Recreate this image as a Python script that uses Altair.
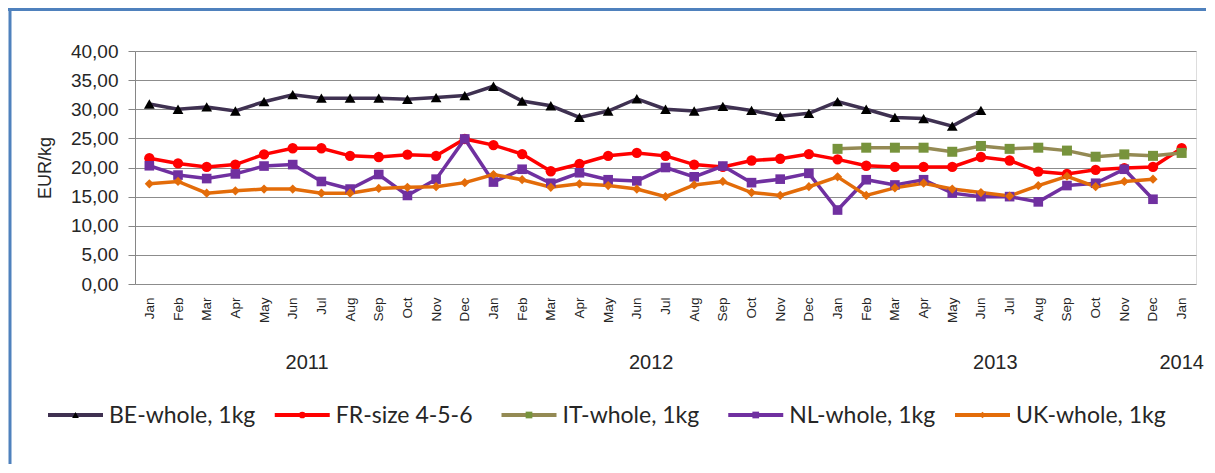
import altair as alt
import pandas as pd

months = ["Jan", "Feb", "Mar", "Apr", "May", "Jun", "Jul", "Aug", "Sep", "Oct", "Nov", "Dec",
          "Jan", "Feb", "Mar", "Apr", "May", "Jun", "Jul", "Aug", "Sep", "Oct", "Nov", "Dec",
          "Jan", "Feb", "Mar", "Apr", "May", "Jun", "Jul", "Aug", "Sep", "Oct", "Nov", "Dec",
          "Jan"]
years = [2011] * 12 + [2012] * 12 + [2013] * 12 + [2014]

series = ["BE-whole, 1kg", "FR-size 4-5-6", "IT-whole, 1kg", "NL-whole, 1kg", "UK-whole, 1kg"]

be = [30.9, 30.0, 30.4, 29.7, 31.3, 32.5, 31.9, 31.9, 31.9, 31.7, 32.0, 32.35,
      33.95, 31.4, 30.6, 28.6, 29.7, 31.8, 30.0, 29.7, 30.5, 29.8, 28.8, 29.3,
      31.3, 30.0, 28.6, 28.4, 27.1, 29.8, None, None, None, None, None, None,
      None]
fr = [21.6, 20.7, 20.1, 20.5, 22.25, 23.3, 23.3, 22.0, 21.8, 22.2, 22.0, 24.9,
      23.85, 22.3, 19.35, 20.6, 22.0, 22.5, 22.0, 20.5, 20.1, 21.2, 21.5, 22.3,
      21.4, 20.3, 20.1, 20.1, 20.1, 21.8, 21.2, 19.3, 18.9, 19.6, 19.9, 20.1,
      23.3]
it = [None, None, None, None, None, None, None, None, None, None, None, None,
      None, None, None, None, None, None, None, None, None, None, None, None,
      23.2, 23.4, 23.4, 23.4, 22.7, 23.7, 23.2, 23.4, 22.9, 21.85, 22.25, 22.0,
      22.5]
nl = [20.3, 18.7, 18.1, 18.9, 20.25, 20.5, 17.6, 16.3, 18.8, 15.2, 18.0, 24.9,
      17.5, 19.7, 17.3, 19.1, 17.9, 17.7, 20.0, 18.4, 20.25, 17.4, 18.0, 19.0,
      12.7, 17.9, 17.0, 17.9, 15.6, 15.0, 15.0, 14.1, 16.9, 17.3, 19.7, 14.55,
      None]
uk = [17.2, 17.6, 15.6, 16.0, 16.3, 16.3, 15.6, 15.6, 16.4, 16.6, 16.7, 17.4,
      18.8, 17.9, 16.6, 17.2, 16.9, 16.3, 15.0, 17.0, 17.6, 15.7, 15.2, 16.7,
      18.4, 15.2, 16.5, 17.3, 16.3, 15.7, 15.1, 16.9, 18.5, 16.7, 17.6, 18.0,
      None]

line_colors = ["#3F3151", "#FF0000", "#948A54", "#7030A0", "#E36C09"]
marker_colors = ["#000000", "#FF0000", "#77933C", "#7030A0", "#E36C09"]
marker_shapes = ["triangle-up", "circle", "square", "square", "diamond"]
marker_sizes = [115, 85, 90, 100, 190]
legend_sizes = [45, 45, 45, 45, 70]

rows = []
for name, vals in zip(series, [be, fr, it, nl, uk]):
    for i, v in enumerate(vals):
        if v is not None:
            rows.append({"series": name, "idx": i, "month": months[i], "year": years[i], "value": v})
df = pd.DataFrame(rows)

ydf = pd.DataFrame({"year": years, "idx": range(len(years))}).groupby("year", as_index=False)["idx"].mean()
ydf["label"] = ydf["year"].astype(str)

leg_df = pd.DataFrame({"series": series})

W, H = 1061, 233
FONT = "Liberation Sans"
TXT = "#262626"

color_scale = alt.Scale(domain=series, range=line_colors)
fill_scale = alt.Scale(domain=series, range=marker_colors)
shape_scale = alt.Scale(domain=series, range=marker_shapes)
size_scale = alt.Scale(domain=series, range=marker_sizes)
leg_size_scale = alt.Scale(domain=series, range=legend_sizes)

month_expr = "[" + ",".join("'%s'" % m for m in months) + "][datum.value]"

x_axis = alt.Axis(
    values=list(range(len(months))), labelExpr=month_expr, labelAngle=270,
    labelAlign="right", labelBaseline="middle", grid=False, ticks=False,
    tickSize=0, domain=False, labelPadding=13, labelFontSize=13.5,
    labelFont=FONT, labelColor=TXT, title=None, labelOverlap=False,
    labelFlush=False,
)
x_scale = alt.Scale(domain=[-0.5, len(months) - 0.5], nice=False, zero=False)
y_axis = alt.Axis(
    values=[0, 5, 10, 15, 20, 25, 30, 35, 40],
    labelExpr="replace(format(datum.value, '.2f'), '.', ',')",
    labelFontSize=19, labelFont=FONT, labelColor=TXT, labelPadding=10,
    tickSize=7, tickColor="#868686", domainColor="#868686",
    gridColor="#8C8C8C", gridWidth=1, labelOverlap=False,
    title="EUR/kg", titleFont=FONT, titleFontSize=18, titleFontWeight="normal",
    titleColor=TXT, titleX=-90, titleY=H / 2, titleAngle=270,
    titleAlign="center", titleBaseline="middle",
)
y_scale = alt.Scale(domain=[0, 40], nice=False)


def xe(field="idx:Q"):
    return alt.X(field, scale=x_scale, axis=x_axis)


def ye():
    return alt.Y("value:Q", scale=y_scale, axis=y_axis)


base = alt.Chart(df)
lines = base.mark_line(strokeWidth=3.5).encode(
    x=xe(), y=ye(),
    color=alt.Color("series:N", scale=color_scale, legend=None),
    detail="series:N",
)
points = base.mark_point(filled=True, opacity=1, strokeWidth=0).encode(
    x=xe(), y=ye(),
    fill=alt.Fill("series:N", scale=fill_scale, legend=None),
    shape=alt.Shape("series:N", scale=shape_scale, legend=None),
    size=alt.Size("series:N", scale=size_scale, legend=None),
)
year_text = alt.Chart(ydf).mark_text(
    font=FONT, fontSize=20, color=TXT, align="center", baseline="middle"
).encode(x=xe(), y=alt.value(312), text="label:N")

main = alt.layer(lines, points, year_text)

leg_x = alt.X("series:N", scale=alt.Scale(type="point", domain=series, range=[-87, 820], padding=0), axis=None)
leg_base = alt.Chart(leg_df)
leg_rule = leg_base.mark_rule(strokeWidth=4, x2Offset=55).encode(
    x=leg_x, x2="series:N", y=alt.value(364),
    color=alt.Color("series:N", scale=color_scale, legend=None),
)
leg_pt = leg_base.mark_point(filled=True, opacity=1, strokeWidth=0, xOffset=27.5).encode(
    x=leg_x, y=alt.value(364),
    fill=alt.Fill("series:N", scale=fill_scale, legend=None),
    shape=alt.Shape("series:N", scale=shape_scale, legend=None),
    size=alt.Size("series:N", scale=leg_size_scale, legend=None),
)
leg_txt = leg_base.mark_text(
    font="Lato", fontSize=23, color=TXT, align="left", baseline="middle", xOffset=61
).encode(x=leg_x, y=alt.value(365), text="series:N")
legend = alt.layer(leg_rule, leg_pt, leg_txt)

frame_data = alt.Data(values=[{}])
frame_left = alt.Chart(frame_data).mark_rule(color="#4F81BD", strokeWidth=3).encode(
    x=alt.value(-125), y=alt.value(-43), y2=alt.value(420)
)
frame_top = alt.Chart(frame_data).mark_rule(color="#4F81BD", strokeWidth=3).encode(
    x=alt.value(-127), x2=alt.value(W + 20), y=alt.value(-41.5)
)

chart = alt.layer(main, legend, frame_left, frame_top).resolve_scale(
    x="independent", size="independent"
).properties(
    width=W, height=H,
    autosize=alt.AutoSizeParams(type="none"),
    padding={"left": 127, "top": 43, "right": 10, "bottom": 180},
).configure_view(
    stroke="#8DB3E2", strokeWidth=1
).configure(background="white")

chart.save("out.html", embed_options={"renderer": "svg", "actions": False})
